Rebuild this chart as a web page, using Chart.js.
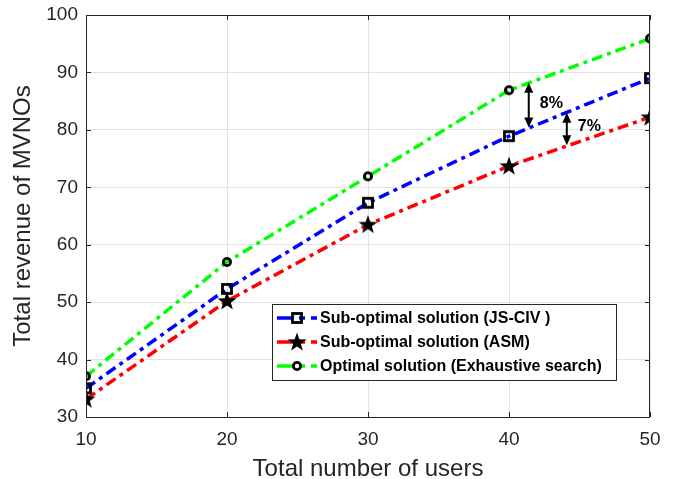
<!DOCTYPE html>
<html>
<head>
<meta charset="utf-8">
<script src="https://cdn.jsdelivr.net/npm/chart.js@4/dist/chart.umd.min.js"></script>
<style>
  html, body { margin: 0; padding: 0; background: #fff; }
  #wrap { width: 676px; height: 479px; }
</style>
</head>
<body>
<div id="wrap"><canvas id="revenueChart" width="676" height="479"></canvas></div>
<script>
const users = [10, 20, 30, 40, 50];
const jsciv = [35.0, 52.3, 67.3, 78.9, 89.0];
const asm = [33.1, 50.2, 63.5, 73.7, 82.2];
const exhaustive = [37.1, 57.0, 71.9, 86.9, 95.9];
const seriesLabels = [
    'Sub-optimal solution (JS-CIV )',
    'Sub-optimal solution (ASM)',
    'Optimal solution (Exhaustive search)'
];
// gap annotations: [x, from, to, label]
const gapArrows = [
    [41.4, 88.2, 80.4, '8%'],
    [44.1, 83.0, 77.3, '7%']
];

const FONT = '"Liberation Sans", Arial, sans-serif';

function makeMarker(kind) {
    const c = document.createElement('canvas');
    c.width = 22; c.height = 22;
    const g = c.getContext('2d');
    g.strokeStyle = '#000';
    g.fillStyle = '#000';
    g.lineWidth = 2.8;
    if (kind === 'square') {
        g.strokeRect(6.5, 6.5, 9, 9);
    } else if (kind === 'circle') {
        g.beginPath();
        g.arc(11, 11, 3.6, 0, Math.PI * 2);
        g.stroke();
    } else {
        g.beginPath();
        for (let i = 0; i < 10; i++) {
            const r = i % 2 === 0 ? 10 : 4.0;
            const a = -Math.PI / 2 + i * Math.PI / 5;
            const px = 11 + r * Math.cos(a), py = 11.5 + r * Math.sin(a);
            if (i === 0) g.moveTo(px, py); else g.lineTo(px, py);
        }
        g.closePath();
        g.fill();
    }
    return c;
}

const markers = [makeMarker('square'), makeMarker('star'), makeMarker('circle')];
const colors = ['#0000ff', '#ff0000', '#00ff00'];
const dashPattern = [11, 5, 4, 5];

const frame = {
    id: 'frame',
    afterDraw(chart) {
        const a = chart.chartArea;
        const ctx = chart.ctx;
        ctx.save();
        ctx.strokeStyle = '#262626';
        ctx.lineWidth = 1;
        ctx.strokeRect(a.left + 0.5, a.top + 0.5, a.right - a.left - 1, a.bottom - a.top);
        // inward ticks on all sides
        const xs = chart.scales.x, ys = chart.scales.y;
        users.forEach(u => {
            const px = Math.round(xs.getPixelForValue(u)) + 0.5;
            ctx.beginPath();
            ctx.moveTo(px, a.top); ctx.lineTo(px, a.top + 5);
            ctx.moveTo(px, a.bottom); ctx.lineTo(px, a.bottom - 5);
            ctx.stroke();
        });
        for (let v = 30; v <= 100; v += 10) {
            const py = Math.round(ys.getPixelForValue(v)) + 0.5;
            ctx.beginPath();
            ctx.moveTo(a.left, py); ctx.lineTo(a.left + 5, py);
            ctx.moveTo(a.right, py); ctx.lineTo(a.right - 5, py);
            ctx.stroke();
        }

        // gap arrows
        ctx.fillStyle = '#000';
        ctx.strokeStyle = '#000';
        ctx.lineWidth = 2;
        gapArrows.forEach(([x, y1, y2, label]) => {
            const px = xs.getPixelForValue(x);
            const p1 = ys.getPixelForValue(y1), p2 = ys.getPixelForValue(y2);
            ctx.beginPath();
            ctx.moveTo(px, p1 + 6); ctx.lineTo(px, p2 - 6);
            ctx.stroke();
            ctx.beginPath();
            ctx.moveTo(px, p1); ctx.lineTo(px - 4.5, p1 + 10); ctx.lineTo(px + 4.5, p1 + 10); ctx.closePath();
            ctx.fill();
            ctx.beginPath();
            ctx.moveTo(px, p2); ctx.lineTo(px - 4.5, p2 - 10); ctx.lineTo(px + 4.5, p2 - 10); ctx.closePath();
            ctx.fill();
            ctx.font = 'bold 16px ' + FONT;
            ctx.textBaseline = 'middle';
            ctx.textAlign = 'left';
            ctx.fillText(label, px + 11, (p1 + p2) / 2 - 2);
        });

        // legend box
        const lx = 272, ly = 304, lw = 344, lh = 76;
        ctx.fillStyle = '#fff';
        ctx.fillRect(lx, ly, lw, lh);
        ctx.strokeStyle = '#262626';
        ctx.lineWidth = 1;
        ctx.strokeRect(lx + 0.5, ly + 0.5, lw, lh);
        chart.data.datasets.forEach((ds, i) => {
            const cy = ly + 14 + i * 24;
            ctx.save();
            ctx.strokeStyle = ds.borderColor;
            ctx.lineWidth = 3.5;
            ctx.setLineDash([16, 6, 6, 6]);
            ctx.beginPath();
            ctx.moveTo(lx + 5, cy); ctx.lineTo(lx + 45, cy);
            ctx.stroke();
            ctx.restore();
            ctx.drawImage(markers[i], lx + 14, cy - 11);
            ctx.fillStyle = '#000';
            ctx.font = 'bold 16px ' + FONT;
            ctx.textAlign = 'left';
            ctx.textBaseline = 'middle';
            ctx.fillText(ds.label, lx + 48, cy + 1);
        });
        ctx.restore();
    }
};

const ctx = document.getElementById('revenueChart').getContext('2d');
const seriesData = [jsciv, asm, exhaustive];

new Chart(ctx, {
    type: 'line',
    data: {
        datasets: seriesData.map((vals, i) => ({
            label: seriesLabels[i],
            data: users.map((u, j) => ({ x: u, y: vals[j] })),
            borderColor: colors[i],
            borderWidth: 3.5,
            borderDash: dashPattern,
            pointStyle: markers[i],
            pointRadius: 11,
            tension: 0,
            fill: false
        }))
    },
    options: {
        responsive: false,
        animation: false,
        layout: { padding: { top: 15, right: 26, left: 0, bottom: 0 } },
        plugins: {
            legend: { display: false },
            tooltip: { enabled: false }
        },
        scales: {
            x: {
                type: 'linear',
                min: 10,
                max: 50,
                afterFit(s) {
                    s.height = 62;
                    s.paddingLeft = 0;
                    s.paddingRight = 0;
                },
                ticks: {
                    stepSize: 10,
                    color: '#262626',
                    padding: 11,
                    font: { family: FONT, size: 19 }
                },
                grid: { color: '#e3e3e3', drawTicks: false },
                border: { display: false },
                title: {
                    display: true,
                    text: 'Total number of users',
                    color: '#262626',
                    padding: { top: 0, bottom: 0 },
                    font: { family: FONT, size: 24, lineHeight: 0.8 }
                }
            },
            y: {
                min: 30,
                max: 100,
                afterFit(s) {
                    s.width = 86;
                    s.paddingTop = 0;
                    s.paddingBottom = 0;
                },
                ticks: {
                    stepSize: 10,
                    color: '#262626',
                    padding: 8,
                    font: { family: FONT, size: 19 }
                },
                grid: { color: '#e3e3e3', drawTicks: false },
                border: { display: false },
                title: {
                    display: true,
                    text: 'Total revenue of MVNOs',
                    color: '#262626',
                    padding: { top: 14, bottom: 0 },
                    font: { family: FONT, size: 24, lineHeight: 0.8 }
                }
            }
        }
    },
    plugins: [frame]
});
</script>
</body>
</html>
